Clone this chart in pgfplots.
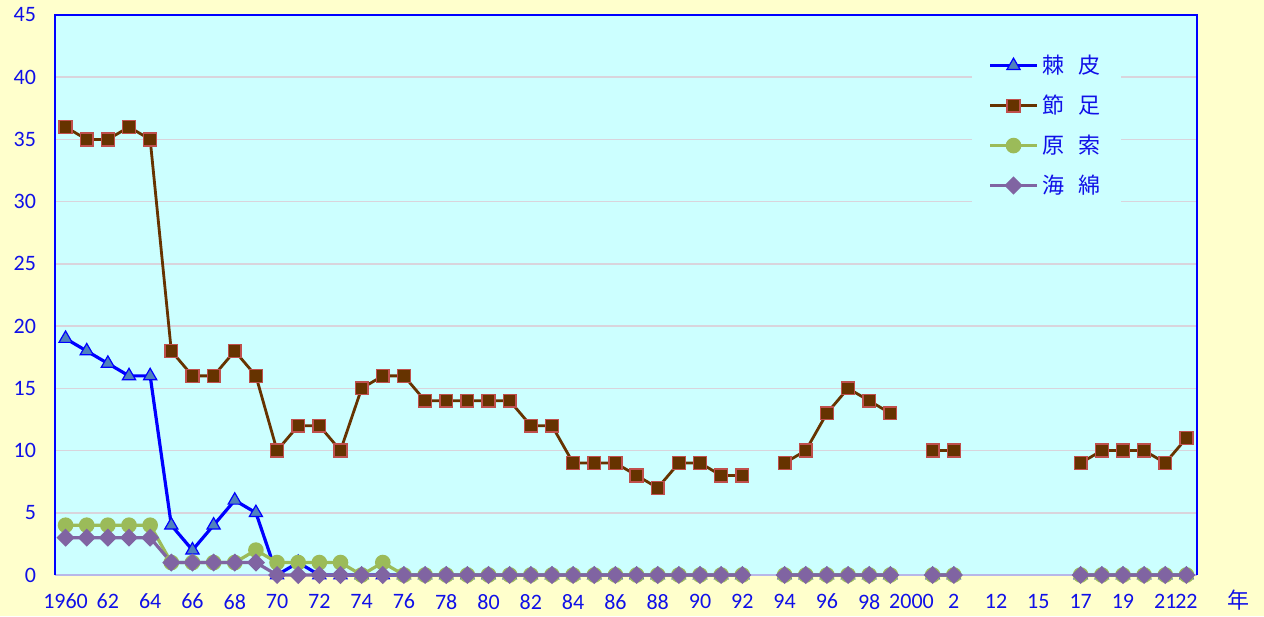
\documentclass[border=0pt]{standalone}
\usepackage{fontspec}
\setmainfont{Carlito}
\newfontfamily\cjk{Noto Sans CJK JP}
\usepackage{pgfplots}
\usepackage{pgfplotstable}
\pgfplotsset{compat=1.18}
\definecolor{bgyellow}{HTML}{FFFFCC}
\definecolor{bgcyan}{HTML}{CCFFFF}
\definecolor{gridc}{HTML}{D9D4DC}
\definecolor{bottomc}{HTML}{B8B8E8}
\definecolor{axisblue}{HTML}{0000FF}
\definecolor{textblue}{HTML}{1010E8}
\definecolor{echline}{HTML}{0000FF}
\definecolor{echfill}{HTML}{4F81BD}
\definecolor{arthline}{HTML}{663300}
\definecolor{arthedge}{HTML}{C0504D}
\definecolor{protoc}{HTML}{9BBB59}
\definecolor{spongec}{HTML}{8064A2}

\pgfplotstableread{
idx ech arth proto sponge
0 19 36 4 3
1 18 35 4 3
2 17 35 4 3
3 16 36 4 3
4 16 35 4 3
5 4 18 1 1
6 2 16 1 1
7 4 16 1 1
8 6 18 1 1
9 5 16 2 1
10 0 10 1 0
11 1 12 1 0
12 0 12 1 0
13 0 10 1 0
14 0 15 0 0
15 0 16 1 0
16 0 16 0 0
17 0 14 0 0
18 0 14 0 0
19 0 14 0 0
20 0 14 0 0
21 0 14 0 0
22 0 12 0 0
23 0 12 0 0
24 0 9 0 0
25 0 9 0 0
26 0 9 0 0
27 0 8 0 0
28 0 7 0 0
29 0 9 0 0
30 0 9 0 0
31 0 8 0 0
32 0 8 0 0
33 nan nan nan nan
34 0 9 0 0
35 0 10 0 0
36 0 13 0 0
37 0 15 0 0
38 0 14 0 0
39 0 13 0 0
40 nan nan nan nan
41 0 10 0 0
42 0 10 0 0
43 nan nan nan nan
44 nan nan nan nan
45 nan nan nan nan
46 nan nan nan nan
47 nan nan nan nan
48 0 9 0 0
49 0 10 0 0
50 0 10 0 0
51 0 10 0 0
52 0 9 0 0
53 0 11 0 0
}\data

\begin{document}
\begin{tikzpicture}
\path[use as bounding box, fill=bgyellow] (-27.5pt,-20.5pt) rectangle (604.5pt,287.5pt);
\begin{axis}[
  scale only axis, width=571pt, height=280pt,
  xmin=-0.5, xmax=53.5, ymin=0, ymax=45,
  ytick={0,5,10,15,20,25,30,35,40,45},
  xtick={0,2,4,6,8,10,12,14,16,18,20,22,24,26,28,30,32,34,36,38,40,42,44,46,48,50,52,53},
  xticklabels={1960,62,64,66,68,70,72,74,76,78,80,82,84,86,88,90,92,94,96,98,2000,2,12,15,17,19,21,22},
  major tick length=0pt,
  ymajorgrids, grid style={gridc, line width=0.8pt},
  axis line style={draw=none},
  axis background/.style={fill=bgcyan},
  tick label style={font=\fontsize{11}{13}\selectfont, text=textblue},
  /pgf/number format/assume math mode=true,
  yticklabel style={xshift=-6pt},
  xticklabel style={yshift=-6pt},
  unbounded coords=jump,
  clip=false,
  legend image code/.code={\draw[mark repeat=2,mark phase=2,#1] plot coordinates {(0pt,0pt) (11.75pt,0pt) (23.5pt,0pt)};},
  legend style={at={(rel axis cs:0.803,0.958)}, anchor=north west, fill=bgcyan, draw=none,
    font=\fontsize{11}{13}\selectfont, text=textblue, inner xsep=8pt, inner ysep=6pt,
    row sep=5.2pt},
  legend cell align=left,
  after end axis/.code={
    \draw[axisblue, line width=1pt] (rel axis cs:0,0) -- (rel axis cs:0,1) -- (rel axis cs:1,1) -- (rel axis cs:1,0);
    \node[font=\fontsize{11}{13}\selectfont\cjk, text=textblue] at ([xshift=20.5pt,yshift=-12.5pt]rel axis cs:1,0) {年};
  },
]
\draw[bottomc, line width=1.2pt] (rel axis cs:0,0) -- (rel axis cs:1,0);
\addplot[echline, line width=1.6pt, mark=triangle*, mark size=3.8pt,
  mark options={fill=echfill, draw=echline, line width=0.6pt}] table[x=idx, y=ech] {\data};
\addlegendentry{\cjk 棘\hspace{7pt}皮}
\addplot[arthline, line width=1.4pt, mark=square*, mark size=3.2pt,
  mark options={fill=arthline, draw=arthedge, line width=0.7pt}] table[x=idx, y=arth] {\data};
\addlegendentry{\cjk 節\hspace{7pt}足}
\addplot[protoc, line width=1.6pt, mark=*, mark size=3.1pt,
  mark options={fill=protoc, draw=protoc}] table[x=idx, y=proto] {\data};
\addlegendentry{\cjk 原\hspace{7pt}索}
\addplot[spongec, line width=1.6pt, mark=square*, mark size=2.4pt,
  mark options={fill=spongec, draw=spongec, rotate=45}] table[x=idx, y=sponge] {\data};
\addlegendentry{\cjk 海\hspace{7pt}綿}
\end{axis}
\end{tikzpicture}
\end{document}
